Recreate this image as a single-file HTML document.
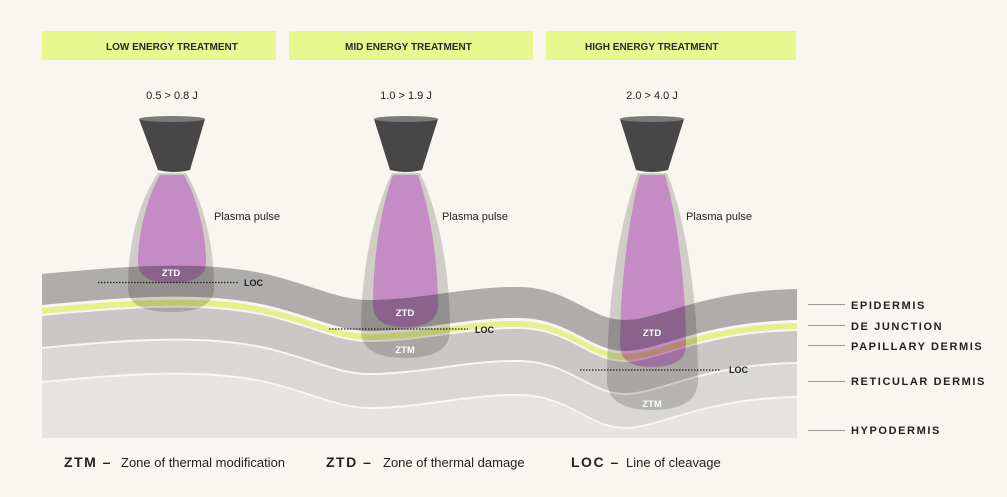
<!DOCTYPE html>
<html><head><meta charset="utf-8"><style>
html,body{margin:0;padding:0;background:#f9f5f1;width:1007px;height:497px;overflow:hidden;}
svg{display:block;font-family:"Liberation Sans",sans-serif;}
</style></head><body>
<svg width="1007" height="497" viewBox="0 0 1007 497" xmlns="http://www.w3.org/2000/svg">
<defs>
<clipPath id="skin"><rect x="42" y="200" width="755" height="238"/></clipPath>
</defs>
<rect width="1007" height="497" fill="#f9f5f1"/>

<rect x="42" y="31" width="234" height="29" fill="#e7f88f"/>
<rect x="289" y="31" width="244" height="29" fill="#e7f88f"/>
<rect x="546" y="31" width="250" height="29" fill="#e7f88f"/>
<g font-size="10" font-weight="bold" fill="#2a2a2a">
<text x="106" y="50">LOW ENERGY TREATMENT</text>
<text x="345" y="50">MID ENERGY TREATMENT</text>
<text x="585" y="50">HIGH ENERGY TREATMENT</text>
</g>
<g font-size="11" fill="#222" text-anchor="middle">
<text x="172" y="99">0.5 &gt; 0.8 J</text>
<text x="406" y="99">1.0 &gt; 1.9 J</text>
<text x="652" y="99">2.0 &gt; 4.0 J</text>
</g>

<g>
<path d="M158,173 C140,200 128,240 128,288 Q128,312 171,312 Q214,312 214,288 C214,240 202,200 186,173 Z" fill="#d0ccc6"/>
<path d="M160,175 C146,200 138,235 138,262 Q138,283 171,283 Q206,283 206,262 C206,235 198,200 184,175 Z" fill="#c48bc4"/>
<path d="M392,173 C374,210 361,270 361,330 Q361,358 405,358 Q450,358 450,330 C450,270 438,210 420,173 Z" fill="#d0ccc6"/>
<path d="M393,175 C380,210 373,260 373,305 Q373,327 405,327 Q438,327 438,305 C438,260 430,210 418,175 Z" fill="#c48bc4"/>
<path d="M638,173 C620,220 607,300 607,380 Q607,410 652,410 Q698,410 698,380 C698,300 686,220 667,173 Z" fill="#d0ccc6"/>
<path d="M640,175 C628,220 620,290 620,345 Q620,367 652,367 Q686,367 686,345 C686,290 678,220 665,175 Z" fill="#c48bc4"/>
</g>

<g clip-path="url(#skin)" style="mix-blend-mode:multiply">
<g><path d="M42,274 C110,268 200,258 270,275 C320,288 340,300 370,300 C420,300 470,286 520,287 C570,288 590,320 625,320 C660,320 700,291 797,289 L797,460 L42,460Z" fill="#b3b4b6"/></g>
<g transform="translate(0,31)"><path d="M42,274 C110,268 200,258 270,275 C320,288 340,300 370,300 C420,300 470,286 520,287 C570,288 590,320 625,320 C660,320 700,291 797,289 L797,460 L42,460Z" fill="#ffffff"/></g>
<g transform="translate(0,34)"><path d="M42,274 C110,268 200,258 270,275 C320,288 340,300 370,300 C420,300 470,286 520,287 C570,288 590,320 625,320 C660,320 700,291 797,289 L797,460 L42,460Z" fill="#e8fb92"/></g>
<g transform="translate(0,40)"><path d="M42,274 C110,268 200,258 270,275 C320,288 340,300 370,300 C420,300 470,286 520,287 C570,288 590,320 625,320 C660,320 700,291 797,289 L797,460 L42,460Z" fill="#ffffff"/></g>
<g transform="translate(0,42)"><path d="M42,274 C110,268 200,258 270,275 C320,288 340,300 370,300 C420,300 470,286 520,287 C570,288 590,320 625,320 C660,320 700,291 797,289 L797,460 L42,460Z" fill="#cfd0d2"/></g>
<g transform="translate(0,73)"><path d="M42,274 C110,268 200,258 270,275 C320,288 340,300 370,300 C420,300 470,286 520,287 C570,288 590,320 625,320 C660,320 700,291 797,289 L797,460 L42,460Z" fill="#ffffff"/></g>
<g transform="translate(0,75)"><path d="M42,274 C110,268 200,258 270,275 C320,288 340,300 370,300 C420,300 470,286 520,287 C570,288 590,320 625,320 C660,320 700,291 797,289 L797,460 L42,460Z" fill="#e0e1e3"/></g>
<g transform="translate(0,107)"><path d="M42,274 C110,268 200,258 270,275 C320,288 340,300 370,300 C420,300 470,286 520,287 C570,288 590,320 625,320 C660,320 700,291 797,289 L797,460 L42,460Z" fill="#ffffff"/></g>
<g transform="translate(0,109)"><path d="M42,274 C110,268 200,258 270,275 C320,288 340,300 370,300 C420,300 470,286 520,287 C570,288 590,320 625,320 C660,320 700,291 797,289 L797,460 L42,460Z" fill="#eceef0"/></g>
</g>

<g>
<path d="M139,119 L205,119 L190,170 Q174,174 158,170 Z" fill="#474747"/>
<ellipse cx="172" cy="119" rx="33" ry="3" fill="#7a7a7a"/>
<path d="M374,119 L438,119 L422,170 Q406,174 390,170 Z" fill="#474747"/>
<ellipse cx="406" cy="119" rx="32" ry="3" fill="#7a7a7a"/>
<path d="M620,119 L684,119 L668,170 Q652,174 636,170 Z" fill="#474747"/>
<ellipse cx="652" cy="119" rx="32" ry="3" fill="#7a7a7a"/>
</g>

<g font-size="11" fill="#222">
<text x="214" y="220">Plasma pulse</text>
<text x="442" y="220">Plasma pulse</text>
<text x="686" y="220">Plasma pulse</text>
</g>

<g stroke="#222" stroke-width="1.2" stroke-dasharray="1.5 1.5">
<line x1="98" y1="282.5" x2="238" y2="282.5"/>
<line x1="329" y1="329" x2="468" y2="329"/>
<line x1="580" y1="370" x2="720" y2="370"/>
</g>
<g font-size="9" font-weight="bold" fill="#222">
<text x="244" y="286">LOC</text>
<text x="475" y="333">LOC</text>
<text x="729" y="373">LOC</text>
</g>
<g font-size="9.5" font-weight="bold" fill="#fff" text-anchor="middle">
<text x="171" y="276">ZTD</text>
<text x="405" y="316">ZTD</text>
<text x="405" y="353">ZTM</text>
<text x="652" y="336">ZTD</text>
<text x="652" y="407">ZTM</text>
</g>

<g stroke="#999" stroke-width="1">
<line x1="808" y1="304.5" x2="845" y2="304.5"/>
<line x1="808" y1="325.5" x2="845" y2="325.5"/>
<line x1="808" y1="345.5" x2="845" y2="345.5"/>
<line x1="808" y1="381.5" x2="845" y2="381.5"/>
<line x1="808" y1="430.5" x2="845" y2="430.5"/>
</g>
<g font-size="11" font-weight="bold" fill="#222" letter-spacing="1.6">
<text x="851" y="309">EPIDERMIS</text>
<text x="851" y="330">DE JUNCTION</text>
<text x="851" y="350">PAPILLARY DERMIS</text>
<text x="851" y="385">RETICULAR DERMIS</text>
<text x="851" y="434">HYPODERMIS</text>
</g>

<g fill="#222">
<text x="64" y="467" font-size="14" font-weight="bold" letter-spacing="1.5">ZTM –</text>
<text x="121" y="467" font-size="13">Zone of thermal modification</text>
<text x="326" y="467" font-size="14" font-weight="bold" letter-spacing="1.5">ZTD –</text>
<text x="383" y="467" font-size="13">Zone of thermal damage</text>
<text x="571" y="467" font-size="14" font-weight="bold" letter-spacing="1.5">LOC –</text>
<text x="626" y="467" font-size="13">Line of cleavage</text>
</g>
</svg>
</body></html>
